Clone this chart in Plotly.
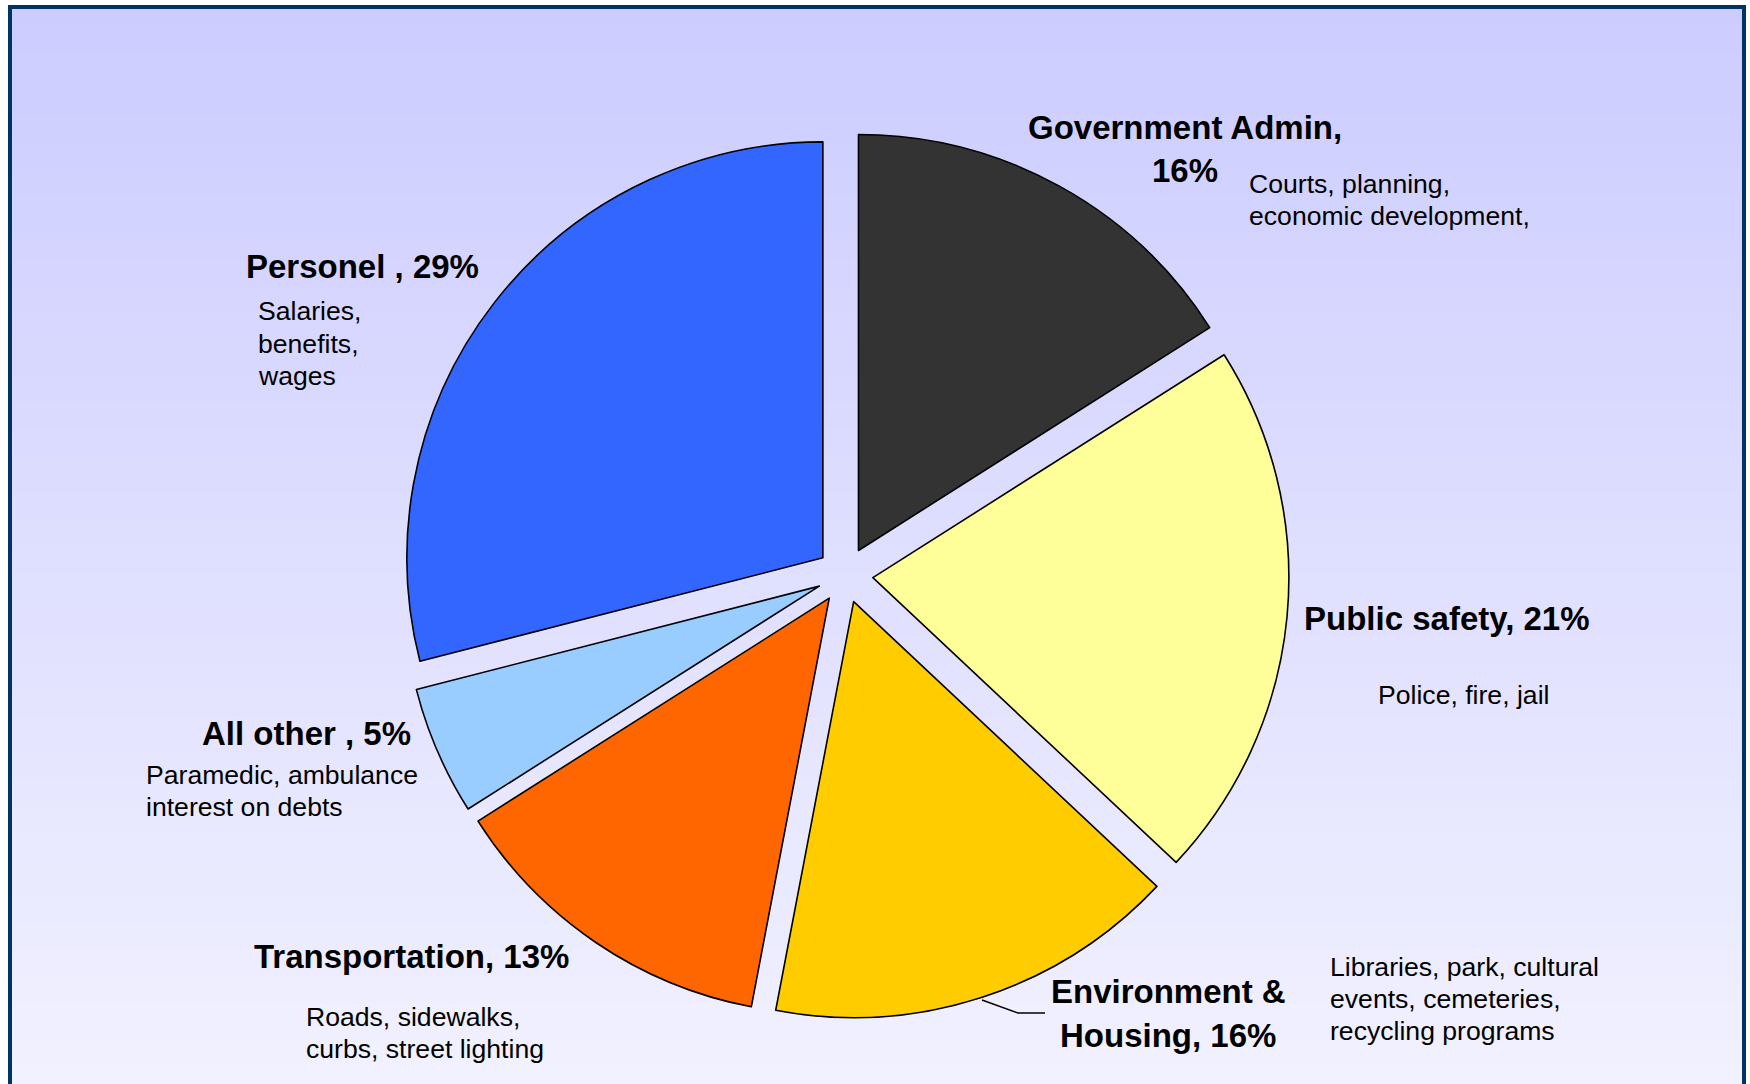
import plotly.graph_objects as go

# ---------------- data ----------------
categories = ["Government Admin", "Public safety", "Environment & Housing",
              "Transportation", "All other", "Personel"]
shares = [16, 21, 16, 13, 5, 29]
title_fmt = ["Government Admin,<br>{}%", "Public safety, {}%",
             "Environment &<br>Housing, {}%", "Transportation, {}%",
             "All other , {}%", "Personel , {}%"]
descriptions = ["Courts, planning,<br>economic development,",
                "Police, fire, jail",
                "Libraries, park, cultural<br>events, cemeteries,<br>recycling programs",
                "Roads, sidewalks,<br>curbs, street lighting",
                "Paramedic, ambulance<br>interest on debts",
                "Salaries,<br>benefits,<br>wages"]
colors = ["#333333", "#FFFF99", "#FFCC00", "#FF6600", "#99CCFF", "#3366FF"]

# ---------------- layout helpers ----------------
W, H = 1750, 1084
FONT = "Liberation Sans, Arial, sans-serif"


def px(x):
    return x / W


def py(y):
    return 1 - y / H


# pie geometry (pixels)
cx, cy, half = 845, 575, 444
pull = 0.0673

fig = go.Figure()
fig.add_trace(go.Pie(
    labels=categories, values=shares, sort=False, direction="clockwise",
    rotation=0, pull=[pull] * len(shares),
    marker=dict(colors=colors, line=dict(color="#000000", width=1.6)),
    textinfo="none", hoverinfo="none", showlegend=False,
    domain=dict(x=[px(cx - half), px(cx + half)],
                y=[py(cy + half), py(cy - half)]),
))

# gradient background inside frame
shapes = []
top_c = (204, 204, 255)
bot_c = (241, 241, 255)
y0, y1 = 8, H
n = 120
for i in range(n):
    t = i / (n - 1)
    c = tuple(round(a + (b - a) * t) for a, b in zip(top_c, bot_c))
    ya = y0 + (y1 - y0) * i / n
    yb = y0 + (y1 - y0) * (i + 1) / n + 1
    shapes.append(dict(type="rect", xref="paper", yref="paper", layer="below",
                       x0=px(10), x1=px(1744), y0=py(ya), y1=py(min(yb, H)),
                       fillcolor="rgb(%d,%d,%d)" % c, line=dict(width=0)))
# frame
shapes.append(dict(type="rect", xref="paper", yref="paper", layer="above",
                   x0=px(10), x1=px(1744), y0=py(7), y1=py(1095),
                   fillcolor="rgba(0,0,0,0)", line=dict(color="#003366", width=4)))
# leader line for Environment & Housing
shapes.append(dict(type="path", xref="paper", yref="paper", layer="above",
                   path="M {} {} L {} {} L {} {}".format(px(982), py(1000), px(1018), py(1013),
                                                          px(1045), py(1013)),
                   line=dict(color="#000000", width=1.5)))

# label placements (pixel anchors: x, first-line y, line step, anchor)
title_pos = [(1185, 127, 43.5, "center"), (1302, 618, 0, "left"), (1168, 991, 44, "center"),
             (252, 956, 0, "left"), (413, 733, 0, "right"), (244, 266, 0, "left")]
desc_pos = [(1247, 183.5, 32.5, "left"), (1376, 695, 0, "left"), (1328, 967, 32, "left"),
            (304, 1016.5, 32, "left"), (144, 775, 32, "left"), (256, 311, 32.5, "left")]

annotations = []
for i, cat in enumerate(categories):
    tx, ty, tstep, ta = title_pos[i]
    for k, line in enumerate(title_fmt[i].format(shares[i]).split("<br>")):
        annotations.append(dict(
            text="<b>" + line + "</b>", x=px(tx), y=py(ty + k * tstep),
            xref="paper", yref="paper", showarrow=False,
            xanchor=ta, yanchor="middle", align=ta,
            font=dict(family=FONT, size=33, color="#000000")))
    dx, dy, dstep, da = desc_pos[i]
    for k, line in enumerate(descriptions[i].split("<br>")):
        annotations.append(dict(
            text=line, x=px(dx), y=py(dy + k * dstep), xref="paper", yref="paper",
            showarrow=False, xanchor=da, yanchor="middle", align=da,
            font=dict(family=FONT, size=26.6, color="#000000")))

fig.update_layout(
    width=W, height=H, margin=dict(l=0, r=0, t=0, b=0),
    paper_bgcolor="#FFFFFF", plot_bgcolor="#FFFFFF",
    shapes=shapes, annotations=annotations, showlegend=False,
)

fig.write_html("out.html")
